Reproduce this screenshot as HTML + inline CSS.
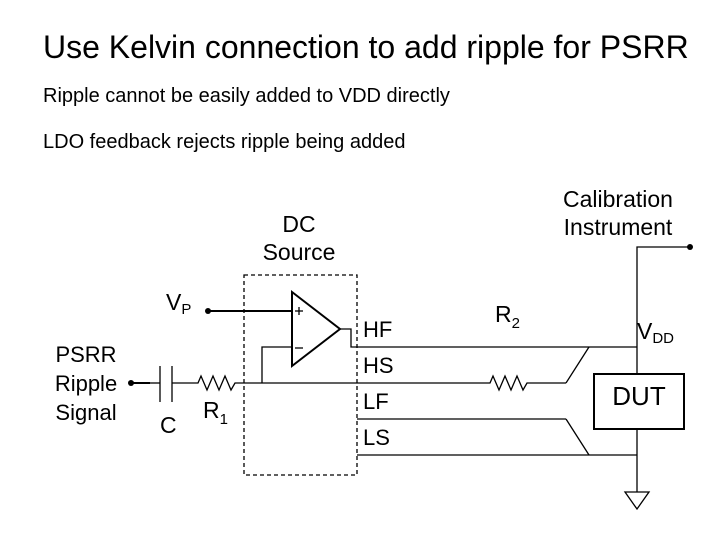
<!DOCTYPE html>
<html><head><style>
body{margin:0;background:#fff}
svg{display:block}
text{font-family:"Liberation Sans",sans-serif;fill:#000}
</style></head><body>
<svg width="720" height="540" viewBox="0 0 720 540">
<text x="43" y="58" font-size="32">Use Kelvin connection to add ripple for PSRR</text>
<text x="43" y="102" font-size="20">Ripple cannot be easily added to VDD directly</text>
<text x="43" y="148" font-size="20">LDO feedback rejects ripple being added</text>
<text x="299" y="232" font-size="23" text-anchor="middle">DC</text>
<text x="299" y="260" font-size="23" text-anchor="middle">Source</text>
<text x="618" y="207" font-size="23" text-anchor="middle">Calibration</text>
<text x="618" y="235" font-size="23" text-anchor="middle">Instrument</text>
<text x="166" y="310" font-size="23">V<tspan font-size="15" dy="4">P</tspan></text>
<text x="86" y="362" font-size="22" text-anchor="middle">PSRR</text>
<text x="86" y="391" font-size="22" text-anchor="middle">Ripple</text>
<text x="86" y="420" font-size="22" text-anchor="middle">Signal</text>
<text x="160" y="433" font-size="23">C</text>
<text x="203" y="418" font-size="23">R<tspan font-size="15" dy="6">1</tspan></text>
<text x="363" y="337" font-size="22">HF</text>
<text x="363" y="373" font-size="22">HS</text>
<text x="363" y="409" font-size="22">LF</text>
<text x="363" y="445" font-size="22">LS</text>
<text x="495" y="322" font-size="23">R<tspan font-size="15" dy="6">2</tspan></text>
<text x="637" y="339" font-size="23">V<tspan font-size="15" dy="4">DD</tspan></text>
<text x="639" y="405" font-size="26" text-anchor="middle">DUT</text>
<g stroke="#000" fill="none" stroke-width="1.3">
<rect x="244" y="275" width="113" height="200" stroke-dasharray="4,3"/>
<polygon points="292,292 292,366 340,329" stroke-width="2"/>
<line x1="295" y1="311" x2="303" y2="311"/><line x1="299" y1="307" x2="299" y2="315"/>
<line x1="295" y1="348" x2="303" y2="348"/>
<line x1="208" y1="311" x2="292" y2="311" stroke-width="2"/>
<polyline points="340,329 351,329 351,347 637,347"/>
<line x1="589" y1="347" x2="566" y2="383"/>
<polyline points="262,383 262,347 292,347"/>
<line x1="131" y1="383" x2="150" y2="383" stroke-width="2"/>
<line x1="150" y1="383" x2="160" y2="383"/>
<line x1="160" y1="366" x2="160" y2="402"/><line x1="172" y1="366" x2="172" y2="402"/>
<polyline points="172,383 198,383 201,376 207,390 213,376 219,390 225,376 231,390 235,383 490,383 493,376 499,390 505,376 511,390 517,376 523,390 527,383 566,383"/>
<line x1="357" y1="419" x2="566" y2="419"/>
<line x1="566" y1="419" x2="589" y2="455"/>
<line x1="357" y1="455" x2="637" y2="455"/>
<polyline points="690,247 637,247 637,374"/>
<rect x="594" y="374" width="90" height="55" stroke-width="2"/>
<line x1="637" y1="429" x2="637" y2="492"/>
<polygon points="625,492 649,492 637,509"/>
</g>
<circle cx="208" cy="311" r="3"/><circle cx="131" cy="383" r="3"/><circle cx="690" cy="247" r="3"/>
</svg>
</body></html>
